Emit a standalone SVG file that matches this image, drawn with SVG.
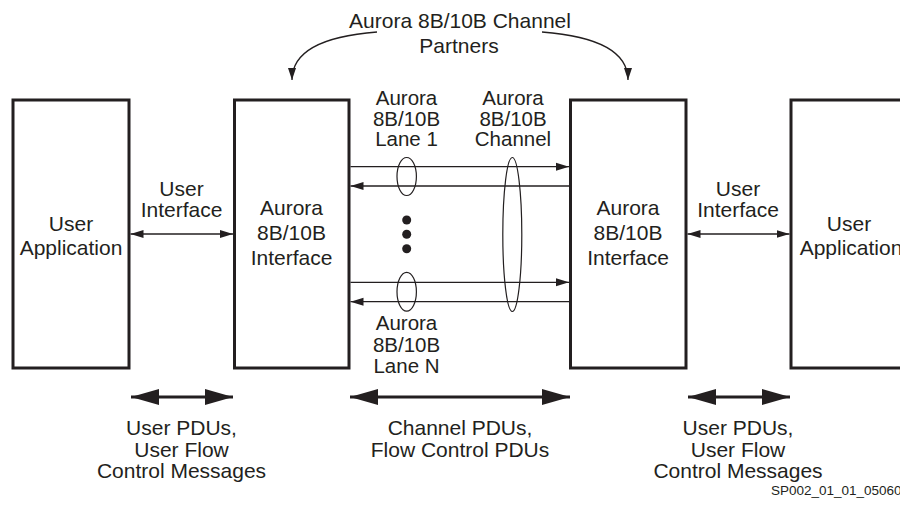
<svg xmlns="http://www.w3.org/2000/svg" width="900" height="510" viewBox="0 0 900 510">
<defs>
<style>
text{font-family:"Liberation Sans",Arial,sans-serif;font-size:21px;fill:#231f20;text-anchor:middle}
.lane{font-size:20.5px}
.box{fill:#fff;stroke:#231f20;stroke-width:3}
.thin{stroke:#231f20;stroke-width:1.3;fill:none}
.thick{stroke:#231f20;stroke-width:3;fill:none}
.ell{fill:none;stroke:#231f20;stroke-width:1.2}
.small{font-size:13.5px;text-anchor:start}
</style>
<marker id="sa" markerUnits="userSpaceOnUse" markerWidth="14" markerHeight="10" refX="13" refY="4" orient="auto-start-reverse" viewBox="0 0 14 8">
<path d="M0,0 L13,4 L0,8 z" fill="#231f20"/>
</marker>
<marker id="ba" markerUnits="userSpaceOnUse" markerWidth="30" markerHeight="18" refX="28" refY="8" orient="auto-start-reverse" viewBox="0 0 30 16">
<path d="M0,0 L28,8 L0,16 z" fill="#231f20"/>
</marker>
<marker id="da" markerUnits="userSpaceOnUse" markerWidth="10" markerHeight="14" refX="4" refY="12" orient="0" viewBox="0 0 10 14">
<path d="M0,0 L8,0 L4,12 z" fill="#231f20"/>
</marker>
</defs>
<rect width="900" height="510" fill="#fff"/>

<g id="title">
<text x="460" y="28">Aurora 8B/10B Channel</text>
<text x="459" y="53">Partners</text>
</g>

<g id="user-app-left">
<rect class="box" x="13" y="100" width="116" height="268"/>
<text x="71" y="231">User</text>
<text x="71" y="255">Application</text>
</g>

<g id="aurora-left">
<rect class="box" x="234.5" y="100" width="114.5" height="268"/>
<text x="291.5" y="215">Aurora</text>
<text x="291.5" y="240">8B/10B</text>
<text x="291.5" y="265">Interface</text>
</g>

<g id="aurora-right">
<rect class="box" x="570.5" y="100" width="115.5" height="268"/>
<text x="628" y="215">Aurora</text>
<text x="628" y="240">8B/10B</text>
<text x="628" y="265">Interface</text>
</g>

<g id="user-app-right">
<rect class="box" x="791" y="100" width="130" height="268"/>
<text x="849" y="231">User</text>
<text x="851" y="255">Application</text>
</g>

<g id="lane1-label">
<text class="lane" x="406.5" y="105">Aurora</text>
<text class="lane" x="406.5" y="125.5">8B/10B</text>
<text class="lane" x="406.5" y="146">Lane 1</text>
</g>

<g id="channel-label">
<text class="lane" x="513" y="105">Aurora</text>
<text class="lane" x="513" y="125.5">8B/10B</text>
<text class="lane" x="513" y="146">Channel</text>
</g>

<g id="laneN-label">
<text class="lane" x="406.5" y="330">Aurora</text>
<text class="lane" x="406.5" y="351.5">8B/10B</text>
<text class="lane" x="406.5" y="373">Lane N</text>
</g>

<g id="ui-labels">
<text x="181.5" y="196">User</text>
<text x="181.5" y="217">Interface</text>
<text x="738" y="196">User</text>
<text x="738" y="217">Interface</text>
</g>

<g id="bottom-labels">
<text x="181.5" y="435">User PDUs,</text>
<text x="181.5" y="456.5">User Flow</text>
<text x="181.5" y="478">Control Messages</text>
<text x="460" y="435">Channel PDUs,</text>
<text x="460" y="456.5">Flow Control PDUs</text>
<text x="738" y="435">User PDUs,</text>
<text x="738" y="456.5">User Flow</text>
<text x="738" y="478">Control Messages</text>
<text class="small" x="771" y="495">SP002_01_01_050609</text>
</g>

<g id="connectors">
<path class="thin" d="M377,32 C325,36 292,50 292,80" marker-end="url(#da)"/>
<path class="thin" d="M542,32 C594,36 628,50 628,80" marker-end="url(#da)"/>
<line class="thin" x1="130.5" y1="234" x2="233" y2="234" marker-start="url(#sa)" marker-end="url(#sa)"/>
<line class="thin" x1="687.5" y1="234" x2="789.5" y2="234" marker-start="url(#sa)" marker-end="url(#sa)"/>
<line class="thin" x1="350.5" y1="166.7" x2="569" y2="166.7" marker-end="url(#sa)"/>
<line class="thin" x1="569" y1="186" x2="350.5" y2="186" marker-end="url(#sa)"/>
<line class="thin" x1="350.5" y1="282.3" x2="569" y2="282.3" marker-end="url(#sa)"/>
<line class="thin" x1="569" y1="301.7" x2="350.5" y2="301.7" marker-end="url(#sa)"/>
<ellipse class="ell" cx="406.7" cy="176.5" rx="9.7" ry="19"/>
<ellipse class="ell" cx="406.7" cy="291.7" rx="9.7" ry="19.4"/>
<ellipse class="ell" cx="512.3" cy="234.5" rx="9.5" ry="77"/>
<circle cx="406.7" cy="220" r="4.5" fill="#231f20"/>
<circle cx="406.7" cy="234.3" r="4.5" fill="#231f20"/>
<circle cx="406.7" cy="248.7" r="4.5" fill="#231f20"/>
<line class="thick" x1="131" y1="397" x2="233" y2="397" marker-start="url(#ba)" marker-end="url(#ba)"/>
<line class="thick" x1="350" y1="397" x2="570" y2="397" marker-start="url(#ba)" marker-end="url(#ba)"/>
<line class="thick" x1="688" y1="397" x2="790" y2="397" marker-start="url(#ba)" marker-end="url(#ba)"/>
</g>
</svg>
